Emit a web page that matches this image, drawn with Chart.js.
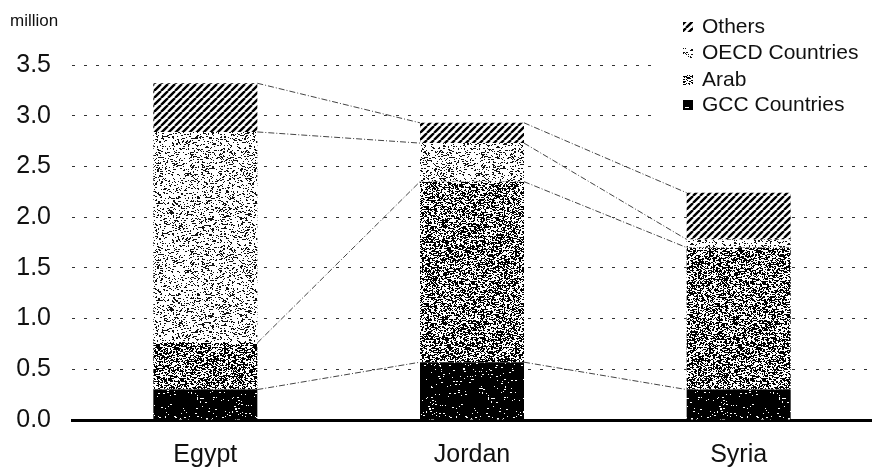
<!DOCTYPE html>
<html>
<head>
<meta charset="utf-8">
<script src="https://cdn.jsdelivr.net/npm/chart.js@4/dist/chart.umd.min.js"></script>
<style>
  body { margin: 0; background: #fff; }
  canvas { display: block; }
</style>
</head>
<body>
<canvas id="chart" width="872" height="469"></canvas>
<script>
// values, in million
const countries = ["Egypt", "Jordan", "Syria"];
const gcc = [0.30, 0.57, 0.30];
const arab = [0.46, 1.78, 1.40];
const oecd = [2.08, 0.38, 0.08];
const others = [0.48, 0.20, 0.46];
const yTicks = [0, 0.5, 1, 1.5, 2, 2.5, 3, 3.5];
const unitLabel = "million";

const FONT = "'Liberation Sans', Arial, sans-serif";

// small deterministic generator, only used for the print-like textures
function lcg(seed) {
  let s = seed;
  return () => {
    s = (s * 16807) % 2147483647;
    return s / 2147483647;
  };
}

function speckle(bg, fg, density, seed) {
  const n = 97;
  const c = document.createElement("canvas");
  c.width = c.height = n;
  const g = c.getContext("2d");
  g.fillStyle = bg;
  g.fillRect(0, 0, n, n);
  g.fillStyle = fg;
  const r = lcg(seed);
  for (let i = 0; i < 50; i++) r();
  for (let y = 0; y < n; y++) {
    for (let x = 0; x < n; x++) {
      if (r() < density) g.fillRect(x, y, r() < 0.35 ? 2 : 1, 1);
    }
  }
  return g.createPattern(c, "repeat");
}

function hatch() {
  const s = 7;
  const c = document.createElement("canvas");
  c.width = c.height = s;
  const g = c.getContext("2d");
  g.fillStyle = "#fff";
  g.fillRect(0, 0, s, s);
  g.strokeStyle = "#000";
  g.lineWidth = 2.4;
  g.beginPath();
  for (let k = -1; k <= 1; k++) {
    g.moveTo(k * s, s);
    g.lineTo(k * s + s, 0);
  }
  g.stroke();
  return g.createPattern(c, "repeat");
}

const fills = {
  gcc: speckle("#000", "#fff", 0.04, 1234567),
  arab: speckle("#fff", "#000", 0.42, 7654321),
  oecd: speckle("#fff", "#111", 0.17, 2468013),
  others: hatch(),
};

// dash-dot lines joining each segment top from one bar to the next
const connectors = {
  id: "connectors",
  afterDatasetsDraw(chart) {
    const ctx = chart.ctx;
    ctx.save();
    ctx.strokeStyle = "#444";
    ctx.lineWidth = 1;
    ctx.setLineDash([6, 2, 1, 2]);
    chart.data.datasets.forEach((ds, d) => {
      const bars = chart.getDatasetMeta(d).data;
      for (let i = 0; i < bars.length - 1; i++) {
        const a = bars[i], b = bars[i + 1];
        ctx.beginPath();
        ctx.moveTo(a.x + a.width / 2, a.y);
        ctx.lineTo(b.x - b.width / 2, b.y);
        ctx.stroke();
      }
    });
    ctx.restore();
  },
};

// vertical legend in the top right corner, plus the unit label
const sideLegend = {
  id: "sideLegend",
  afterDraw(chart) {
    const ctx = chart.ctx;
    ctx.save();
    ctx.fillStyle = "#fff";
    ctx.fillRect(658, 0, 214, 122);

    const rows = chart.data.datasets.slice().reverse();
    const rowY = [27, 53, 80, 105];
    ctx.font = "21px " + FONT;
    ctx.textBaseline = "middle";
    ctx.textAlign = "left";
    rows.forEach((ds, i) => {
      ctx.fillStyle = ds.backgroundColor;
      ctx.fillRect(683, rowY[i] - 5, 10, 10);
      ctx.fillStyle = "#111";
      ctx.fillText(ds.label, 702, rowY[i]);
    });

    ctx.font = "17px " + FONT;
    ctx.fillText(unitLabel, 10, 21);
    ctx.restore();
  },
};

const data = {
  labels: countries,
  datasets: [
    { label: "GCC Countries", data: gcc, backgroundColor: fills.gcc },
    { label: "Arab", data: arab, backgroundColor: fills.arab },
    { label: "OECD Countries", data: oecd, backgroundColor: fills.oecd },
    { label: "Others", data: others, backgroundColor: fills.others },
  ],
};

new Chart(document.getElementById("chart"), {
  type: "bar",
  data,
  options: {
    responsive: false,
    animation: false,
    layout: { padding: { top: 65, left: 0, right: 0, bottom: 0 } },
    datasets: {
      bar: { barPercentage: 0.39, categoryPercentage: 1, borderWidth: 0 },
    },
    plugins: {
      legend: { display: false },
      tooltip: { enabled: false },
    },
    scales: {
      x: {
        stacked: true,
        grid: { display: false },
        border: { display: true, color: "#000", width: 3 },
        ticks: { color: "#111", font: { family: FONT, size: 25 }, padding: 12 },
        afterFit: (scale) => { scale.height = 49; },
      },
      y: {
        stacked: true,
        min: 0,
        max: 3.5,
        afterBuildTicks: (scale) => {
          scale.ticks = yTicks.map((v) => ({ value: v }));
        },
        grid: {
          drawTicks: false,
          lineWidth: 1,
          color: (c) => (c.tick && c.tick.value === 0 ? "transparent" : "#333"),
        },
        border: { display: false, dash: [3, 9] },
        ticks: {
          color: "#111",
          font: { family: FONT, size: 25 },
          padding: 21,
          callback: (v) => Number(v).toFixed(1),
        },
        afterFit: (scale) => { scale.width = 72; },
      },
    },
  },
  plugins: [connectors, sideLegend],
});
</script>
</body>
</html>
